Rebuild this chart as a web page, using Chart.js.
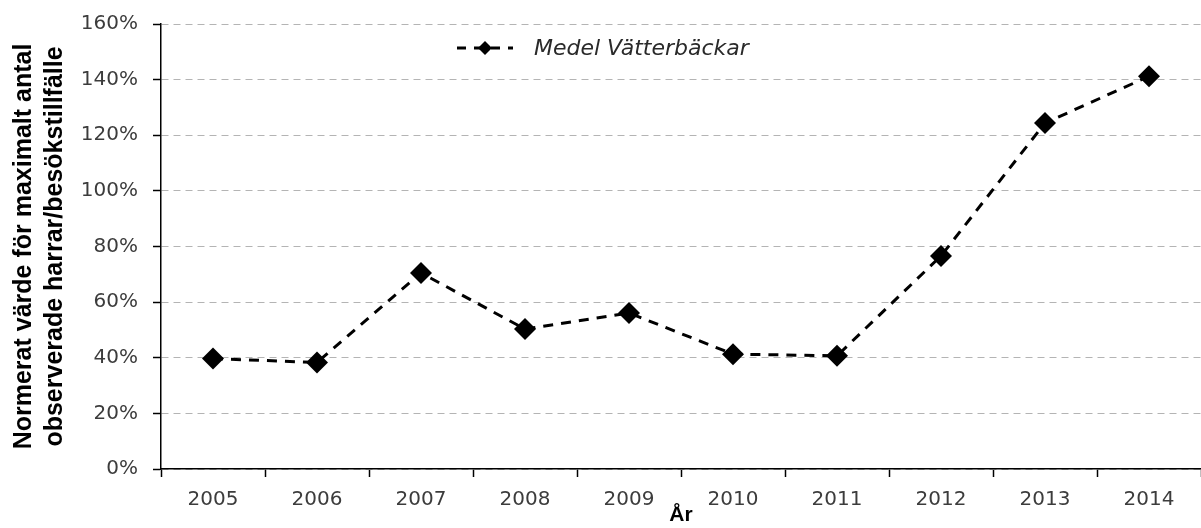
<!DOCTYPE html>
<html>
<head>
<meta charset="utf-8">
<script src="https://cdn.jsdelivr.net/npm/chart.js@4.4.1/dist/chart.umd.min.js"></script>
<style>
  html, body { margin: 0; padding: 0; background: #fff; }
  #wrap { width: 1201px; height: 528px; position: relative; }
</style>
</head>
<body>
<div id="wrap"><canvas id="grafico"></canvas></div>
<script>
// data
const years = ['2005', '2006', '2007', '2008', '2009', '2010', '2011', '2012', '2013', '2014'];
const medelVatterbackar = [39.7, 38.3, 70.5, 50.3, 56.1, 41.3, 40.7, 76.6, 124.4, 141.2];
const seriesLabel = 'Medel Vätterbäckar';
const yTitle = ['Normerat värde för maximalt antal', 'observerade harrar/besökstillfälle'];
const xTitle = 'År';

const tickFont = { family: 'DejaVu Sans', size: 20 };
const tickColor = '#3c3c3c';

// legend sits inside the plot, left of centre, so it is drawn by hand
const legendInPlot = {
    id: 'legendInPlot',
    afterDraw(chart) {
        const ctx = chart.ctx;
        const y = 48;
        ctx.save();
        ctx.strokeStyle = '#000';
        ctx.lineWidth = 3;
        ctx.setLineDash([9, 8]);
        ctx.beginPath();
        ctx.moveTo(457, y);
        ctx.lineTo(513, y);
        ctx.stroke();
        ctx.setLineDash([]);
        ctx.fillStyle = '#000';
        ctx.beginPath();
        ctx.moveTo(485, y - 7);
        ctx.lineTo(492, y);
        ctx.lineTo(485, y + 7);
        ctx.lineTo(478, y);
        ctx.closePath();
        ctx.fill();
        ctx.fillStyle = '#2a2a2a';
        ctx.font = 'italic 22px "DejaVu Sans"';
        ctx.textBaseline = 'middle';
        ctx.fillText(chart.data.datasets[0].label, 534, y + 1);
        ctx.restore();
    }
};

new Chart(document.getElementById('grafico'), {
    type: 'line',
    data: {
        labels: years,
        datasets: [{
            label: seriesLabel,
            data: medelVatterbackar,
            borderColor: '#000',
            borderWidth: 3,
            borderDash: [10, 8],
            pointStyle: 'rectRot',
            pointRadius: 11,
            pointBackgroundColor: '#000',
            pointBorderColor: '#000',
            pointBorderWidth: 0,
            tension: 0
        }]
    },
    options: {
        responsive: true,
        maintainAspectRatio: false,
        devicePixelRatio: 1,
        animation: false,
        layout: { autoPadding: false, padding: { top: 24, right: 0, bottom: 0, left: 0 } },
        plugins: {
            legend: { display: false },
            tooltip: { enabled: false }
        },
        scales: {
            x: {
                offset: true,
                afterFit: axis => {
                    axis.height = 59;
                    axis.paddingLeft = 0;
                    axis.paddingRight = 0;
                },
                grid: {
                    offset: true,
                    drawOnChartArea: false,
                    tickLength: 8,
                    tickColor: '#000',
                    tickWidth: 1.5
                },
                border: { color: '#000', width: 1.5 },
                ticks: { font: tickFont, color: tickColor, padding: 11, maxRotation: 0 },
                title: {
                    display: true,
                    text: xTitle,
                    font: { family: 'Liberation Sans', size: 21, weight: 'bold' },
                    color: '#000',
                    padding: { top: 0, bottom: 0 }
                }
            },
            y: {
                min: 0,
                max: 160,
                afterFit: axis => {
                    axis.width = 161;
                    axis.paddingTop = 0;
                    axis.paddingBottom = 0;
                },
                grid: {
                    color: '#b4b4b4',
                    lineWidth: 1,
                    tickLength: 8,
                    tickColor: '#000',
                    tickWidth: 1.5,
                    tickBorderDash: []
                },
                border: { color: '#000', width: 1.5, dash: [7, 5] },
                ticks: {
                    stepSize: 20,
                    font: tickFont,
                    color: tickColor,
                    padding: 15,
                    callback: v => v + '%'
                },
                title: {
                    display: true,
                    text: yTitle,
                    font: { family: 'Liberation Sans', size: 25, weight: 'bold', lineHeight: 1.25 },
                    color: '#000',
                    padding: { top: 8, bottom: 0 }
                }
            }
        }
    },
    plugins: [legendInPlot]
});
</script>
</body>
</html>
